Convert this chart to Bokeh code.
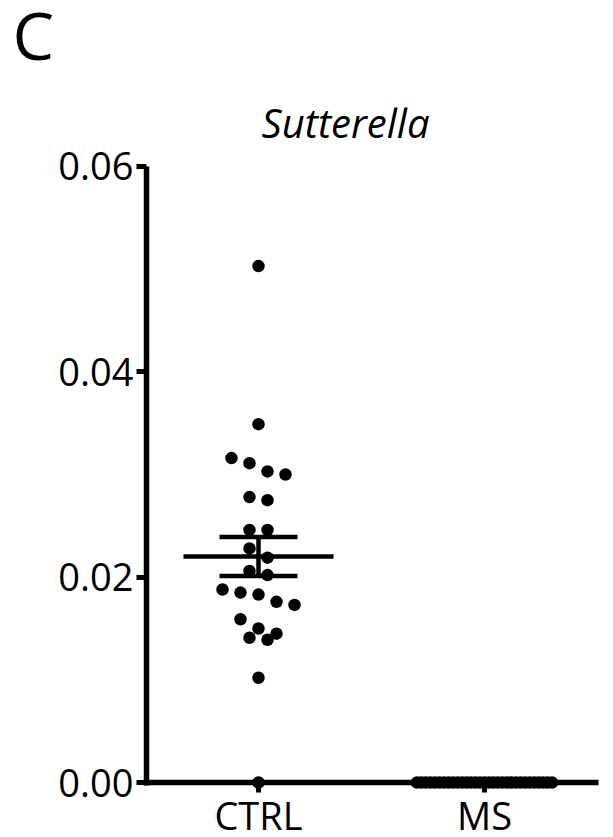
import numpy as np
from bokeh.plotting import figure
from bokeh.models import Range1d, FixedTicker, NumeralTickFormatter, ColumnDataSource
from bokeh.core.properties import value
from bokeh.embed import file_html
from bokeh.resources import INLINE

# ---------------- data ----------------
panel_label = "C"
title_text = "Sutterella"
groups = ["CTRL", "MS"]
ctrl_values = [0.0503, 0.0349, 0.0316, 0.0311, 0.0303, 0.0300, 0.0278, 0.0275,
               0.0246, 0.0246, 0.0228, 0.0219, 0.0206, 0.0202, 0.0188, 0.0185,
               0.0183, 0.0176, 0.0173, 0.0159, 0.0150, 0.0145, 0.0141, 0.0139,
               0.0102, 0.0000]
ms_values = [0.0, 0.0, 0.0, 0.0, 0.0, 0.0, 0.0, 0.0, 0.0, 0.0, 0.0,
             0.0, 0.0, 0.0, 0.0, 0.0, 0.0, 0.0, 0.0, 0.0, 0.0,
             0.0, 0.0, 0.0, 0.0, 0.0, 0.0, 0.0, 0.0, 0.0, 0.0]
y_ticks = [0.0, 0.02, 0.04, 0.06]

# ---------------- layout (pixel anchors) ----------------
W, H = 610, 836
SX = 226.0            # px per category step
SY = 10267.0          # px per y unit
CAT0_PX = 258.0       # x pixel of first category
ZERO_PX = 782.0       # y pixel of y = 0
AXIS_LEFT_PX, AXIS_RIGHT_PX = 146.0, 598.0
X0 = -CAT0_PX / SX
X1 = X0 + W / SX
Y1 = ZERO_PX / SY
Y0 = Y1 - H / SY
XA0 = (AXIS_LEFT_PX - CAT0_PX) / SX
XA1 = (AXIS_RIGHT_PX - CAT0_PX) / SX
FONT = "Open Sans"
AXIS_W = 5.5
TICK_LEN = 10


def swarm(vals, step_px=18.0, band_px=18.0, max_half_px=67.5):
    vals = np.asarray(vals, float)
    order = np.argsort(-vals, kind="stable")
    offs = np.zeros(len(vals))
    i = 0
    while i < len(order):
        start = vals[order[i]] * SY
        row = [order[i]]
        j = i + 1
        while j < len(order) and start - vals[order[j]] * SY < band_px:
            row.append(order[j])
            j += 1
        n = len(row)
        step = step_px if n <= 1 else min(step_px, 2 * max_half_px / (n - 1))
        for k, idx in enumerate(row):
            offs[idx] = (k - (n - 1) / 2) * step / SX
        i = j
    return offs


p = figure(width=W, height=H, output_backend="svg", toolbar_location=None,
           x_range=Range1d(X0, X1), y_range=Range1d(Y0, Y1),
           min_border=0, min_border_left=0, min_border_right=0,
           min_border_top=0, min_border_bottom=0)
p.outline_line_color = None
p.xgrid.visible = False
p.ygrid.visible = False
p.background_fill_color = "white"
p.border_fill_color = "white"

all_x, all_y = [], []
for gi, vals in enumerate([ctrl_values, ms_values]):
    offs = swarm(vals)
    all_x.extend(list(gi + offs))
    all_y.extend(list(vals))

src = ColumnDataSource(dict(x=all_x, y=all_y))
p.scatter("x", "y", source=src, size=12.5, marker="circle",
          fill_color="black", line_color="black", line_width=0)

# mean +/- SEM
mx0, mx1, my, cx0, cx1, cy, vx, vy0, vy1 = [], [], [], [], [], [], [], [], []
for gi, vals in enumerate([ctrl_values, ms_values]):
    a = np.asarray(vals, float)
    m = a.mean()
    sem = a.std(ddof=1) / np.sqrt(len(a))
    mx0.append(gi - 0.332); mx1.append(gi + 0.332); my.append(m)
    for s in (m - sem, m + sem):
        cx0.append(gi - 0.1726); cx1.append(gi + 0.1726); cy.append(s)
    vx.append(gi); vy0.append(m - sem); vy1.append(m + sem)

p.segment(x0=mx0, x1=mx1, y0=my, y1=my, line_color="black", line_width=4.5)
p.segment(x0=cx0, x1=cx1, y0=cy, y1=cy, line_color="black", line_width=4.5)
p.segment(x0=vx, x1=vx, y0=vy0, y1=vy1, line_color="black", line_width=4.5)

# title and panel letter
p.text(x=[0.385], y=[(ZERO_PX - 122) / SY], text=[title_text], text_font=value(FONT),
       text_font_size="40px", text_font_style="italic", text_color="black",
       text_align="center", text_baseline="alphabetic")
p.text(x=[(12 - CAT0_PX) / SX], y=[(ZERO_PX - 33) / SY], text=[panel_label],
       text_font=value(FONT), text_font_size="66px", text_color="black",
       text_align="left", text_baseline="alphabetic")

# axes (fixed inside the frame)
yax = p.yaxis[0]
yax.fixed_location = XA0
yax.ticker = FixedTicker(ticks=y_ticks)
yax.formatter = NumeralTickFormatter(format="0.00")
yax.bounds = (-AXIS_W / 2 / SY, max(y_ticks))
yax.minor_tick_line_color = None
yax.major_tick_in = 0
yax.major_tick_out = TICK_LEN
yax.major_tick_line_width = 5
yax.axis_line_width = AXIS_W
yax.axis_line_color = "black"
yax.major_tick_line_color = "black"
yax.major_label_standoff = 3
yax.major_label_text_font = FONT
yax.major_label_text_font_size = "38px"
yax.major_label_text_color = "black"

gx = list(range(len(groups)))
xax = p.xaxis[0]
xax.fixed_location = 0
xax.ticker = FixedTicker(ticks=gx)
xax.major_label_overrides = {i: g for i, g in enumerate(groups)}
xax.bounds = (XA0 - AXIS_W / 2 / SX, XA1)
xax.minor_tick_line_color = None
xax.major_tick_in = 0
xax.major_tick_out = TICK_LEN
xax.major_tick_line_width = 5
xax.axis_line_width = AXIS_W
xax.axis_line_color = "black"
xax.major_tick_line_color = "black"
xax.major_label_standoff = -4
xax.major_label_text_font = FONT
xax.major_label_text_font_size = "38px"
xax.major_label_text_color = "black"

open("out.html", "w").write(file_html(p, INLINE))
